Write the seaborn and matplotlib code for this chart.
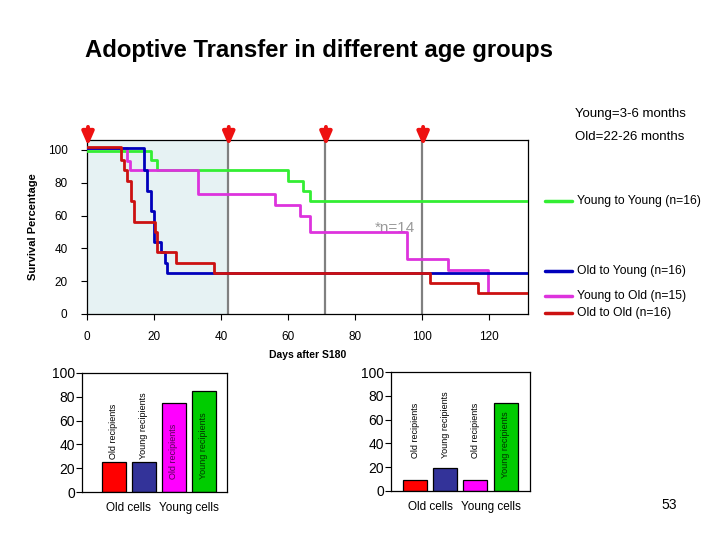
import numpy as np
import pandas as pd
import matplotlib
matplotlib.use("Agg")
import matplotlib.pyplot as plt
from matplotlib.lines import Line2D
import seaborn as sns

# ---------------- data ----------------
x_end = 131.6
yy_days = [0, 19, 21, 60, 64.6, 66.5, x_end]
yy_pct = [99, 93.75, 87.5, 81.25, 75, 68.75, 68.75]

yo_days = [0, 12, 12.7, 33, 56, 63.5, 66.5, 95.4, 107.7, 119.7]
yo_pct = [101, 93.3, 87.5, 73.3, 66.7, 60, 50, 33.3, 26.7, 13.3]

oy_days = [0, 17, 18, 19, 20, 22, 23.3, 24, x_end]
oy_pct = [101, 87.5, 75, 62.5, 43.75, 37.5, 31.25, 25, 25]

oo_days = [0, 10, 11, 12, 13, 14, 20.3, 21, 26.6, 38, 102.4, 116.6, x_end]
oo_pct = [102, 93.75, 87.5, 81.25, 68.75, 56.25, 50, 37.5, 31.25, 25, 18.75, 12.5, 12.5]

groups = ["Young to Young (n=16)", "Young to Old (n=15)", "Old to Young (n=16)", "Old to Old (n=16)"]
line_colors = ["#33EE33", "#DD33DD", "#0000BB", "#CC1111"]
treatment_days = [0, 42, 71, 100]

bar_keys = ["Old cells/Old recipients", "Old cells/Young recipients",
            "Young cells/Old recipients", "Young cells/Young recipients"]
bar_inner = ["Old recipients", "Young recipients", "Old recipients", "Young recipients"]
bar_colors = ["#FF0000", "#333399", "#FF00FF", "#00CC00"]
left_vals = [25, 25, 75, 85]
right_vals = [9, 19, 9, 74]
cell_labels = ["Old cells", "Young cells"]

# ---------------- style ----------------
sns.set_style("white")
plt.rcParams["font.family"] = ["Liberation Sans", "DejaVu Sans"]
plt.rcParams["text.color"] = "black"
plt.rcParams["axes.labelcolor"] = "black"
plt.rcParams["xtick.color"] = "black"
plt.rcParams["ytick.color"] = "black"

fig = plt.figure(figsize=(7.2, 5.4), dpi=100)

fig.text(85 / 720, 1 - 50 / 540, "Adoptive Transfer in different age groups",
         fontsize=17.2, fontweight="bold", ha="left", va="center")
fig.text(630 / 720, 1 - 114 / 540, "Young=3-6 months", fontsize=9.5, ha="center", va="center")
fig.text(630 / 720, 1 - 137 / 540, "Old=22-26 months", fontsize=9.5, ha="center", va="center")
fig.text(669 / 720, 1 - 505 / 540, "53", fontsize=10, ha="center", va="center")

# ---------------- survival plot ----------------
ax = fig.add_axes([87 / 720, 1 - 314 / 540, (528 - 87) / 720, (314 - 140) / 540])
ax.axvspan(0, 42, color="#E6F2F3", zorder=0, lw=0)
for d in treatment_days[1:]:
    ax.axvline(d, color="#808080", lw=1.6, zorder=1)

frames = []
for g, dd, pp in zip(groups, [yy_days, yo_days, oy_days, oo_days], [yy_pct, yo_pct, oy_pct, oo_pct]):
    frames.append(pd.DataFrame({"group": g, "day": dd, "pct": pp, "order": range(len(dd))}))
df = pd.concat(frames, ignore_index=True)

ax.text(92, 52.5, "*n=14", color="#999999", fontsize=11, ha="center", va="center", zorder=1.5)

sns.lineplot(data=df, x="day", y="pct", hue="group", hue_order=groups,
             palette=dict(zip(groups, line_colors)), estimator=None, sort=False,
             drawstyle="steps-post", lw=2, legend=False, ax=ax, zorder=3)

ax.set_xlim(0, x_end)
ax.set_ylim(0, 106)
ax.set_xticks([0, 20, 40, 60, 80, 100, 120])
ax.set_yticks([0, 20, 40, 60, 80, 100])
ax.tick_params(axis="both", labelsize=8.5, length=4, width=0.8, direction="out",
               left=True, bottom=True)
ax.tick_params(axis="y", pad=10)
ax.tick_params(axis="x", pad=8)
for s in ax.spines.values():
    s.set_color("black")
    s.set_linewidth(0.9)
ax.set_xlabel("Days after S180", fontsize=7.5, fontweight="bold", labelpad=5)
ax.set_ylabel("Survival Percentage", fontsize=8, fontweight="bold", labelpad=7)

for d in treatment_days:
    ax.annotate("", xy=(d + 0.3, 102.5), xytext=(d + 0.3, 114),
                arrowprops=dict(arrowstyle="-|>,head_width=0.35,head_length=0.8",
                                color="#EE1111", lw=2.8, shrinkA=0, shrinkB=0),
                annotation_clip=False, zorder=5)

# legend entries placed at right
leg_y = [201, 271, 296, 313]
leg_order = [0, 2, 1, 3]
for yp, gi in zip(leg_y, leg_order):
    fy = 1 - yp / 540
    fig.add_artist(Line2D([545 / 720, 572 / 720], [fy, fy], color=line_colors[gi], lw=2.5))
    fig.text(577 / 720, fy, groups[gi], fontsize=8.7, ha="left", va="center")


# ---------------- bar plots ----------------
def bar_panel(rect, vals, xlim):
    axb = fig.add_axes(rect)
    bdf = pd.DataFrame({"key": bar_keys, "val": vals})
    sns.barplot(data=bdf, x="key", y="val", hue="key", order=bar_keys, hue_order=bar_keys,
                palette=dict(zip(bar_keys, bar_colors)), edgecolor="black", linewidth=0.9,
                width=0.8, saturation=1, legend=False, ax=axb)
    axb.set_xlim(*xlim)
    axb.set_ylim(0, 100)
    axb.set_yticks([0, 20, 40, 60, 80, 100])
    axb.set_xticks([0.5, 2.5])
    axb.set_xticklabels(cell_labels)
    axb.set_xlabel("")
    axb.set_ylabel("")
    axb.tick_params(axis="y", labelsize=10, length=4, width=0.8, left=True, pad=1)
    axb.tick_params(axis="x", labelsize=8.5, length=0, pad=7)
    for s in axb.spines.values():
        s.set_color("black")
        s.set_linewidth(0.9)
    for i, (v, lab) in enumerate(zip(vals, bar_inner)):
        if v > 60:
            col = "#550055" if bar_colors[i] == "#FF00FF" else "#003300"
            axb.text(i, 11, lab, rotation=90, ha="center", va="bottom", fontsize=6.5, color=col)
        else:
            axb.text(i, 28, lab, rotation=90, ha="center", va="bottom", fontsize=6.5, color="black")
    return axb


bar_panel([82 / 720, 1 - 492 / 540, (227 - 82) / 720, (492 - 373) / 540], left_vals, (-1.06, 3.78))
bar_panel([391 / 720, 1 - 491 / 540, (530 - 391) / 720, (491 - 372) / 540], right_vals, (-0.8, 3.81))

fig.savefig("out.png", dpi=100)
